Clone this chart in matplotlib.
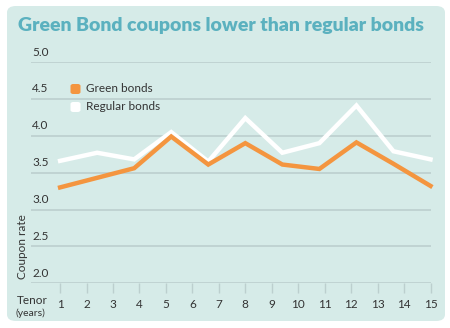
import numpy as np
import matplotlib.pyplot as plt
from matplotlib.patches import FancyBboxPatch

# tenor positions of the plotted points (years)
tenor = [1, 2.4, 3.8, 5.2, 6.6, 8, 9.4, 10.8, 12.2, 13.6, 15]
green = [3.30, 3.43, 3.56, 3.99, 3.61, 3.90, 3.61, 3.55, 3.91, 3.62, 3.32]
regular = [3.66, 3.77, 3.68, 4.05, 3.65, 4.24, 3.77, 3.90, 4.41, 3.79, 3.68]

xticks = list(range(1, 16))
yticks = [2.0, 2.5, 3.0, 3.5, 4.0, 4.5, 5.0]
series_names = ["Green bonds", "Regular bonds"]

CARD = "#d6ebe8"
TEAL = "#5bb1bf"
ORANGE = "#f4953f"
GRID = "#bccfce"
TEXT = "#333333"
FONT = "Lato"

W, H = 450, 328
fig = plt.figure(figsize=(4.5, 3.28), dpi=100)
fig.patch.set_facecolor("white")


def fx(px):
    return px / W


def fy(py):
    return 1 - py / H


# rounded card behind everything
card = FancyBboxPatch((fx(7), fy(321)), fx(438), 315 / H,
                      boxstyle="round,pad=0,rounding_size=0.02",
                      transform=fig.transFigure, facecolor=CARD,
                      edgecolor="none", zorder=-5)
fig.patches.append(card)

ax = fig.add_axes([fx(31), fy(283.3), fx(399.5), (283.3 - 62) / H])
ax.set_zorder(2)
ax.set_facecolor("none")
ax.set_xlim(-0.1, 15)
ax.set_ylim(2.0, 5.0)
for s in ax.spines.values():
    s.set_visible(False)
ax.set_yticks([])
ax.set_xticks(xticks)
ax.set_xticklabels([str(t) for t in xticks], fontsize=8.5, color=TEXT, family=FONT)
ax.tick_params(axis="x", length=7, width=1, color=GRID, pad=4)

for v in yticks:
    ax.axhline(v, color=GRID, lw=1.2, zorder=1)
    ax.text(0.003, v + 0.06, f"{v:.1f}", transform=ax.get_yaxis_transform(),
            fontsize=8.5, color=TEXT, family=FONT, va="bottom", ha="left")

ax.plot(tenor, regular, color="white", lw=3.2, solid_joinstyle="miter", zorder=3, clip_on=False)
ax.plot(tenor, green, color=ORANGE, lw=3.2, solid_joinstyle="miter", zorder=4, clip_on=False)

# legend
for i, (name, col) in enumerate(zip(series_names, [ORANGE, "white"])):
    yc = 89 + i * 18
    sq = FancyBboxPatch((fx(70.5), fy(yc + 5)), fx(10), 10 / H,
                        boxstyle="round,pad=0,rounding_size=0.006",
                        transform=fig.transFigure, facecolor=col,
                        edgecolor="none", zorder=5)
    fig.patches.append(sq)
    fig.text(fx(86), fy(yc), name, fontsize=8.5, color=TEXT, family=FONT,
             va="center", ha="left")

fig.text(fx(18), fy(25), "Green Bond coupons lower than regular bonds",
         fontsize=14, fontweight="heavy", color=TEAL, family=FONT,
         va="center", ha="left")
fig.text(fx(22), fy(247), "Coupon rate", rotation=90, fontsize=8.5,
         color=TEXT, family=FONT, va="center", ha="center")
fig.text(fx(17), fy(300), "Tenor", fontsize=8.5, color=TEXT, family=FONT,
         va="center", ha="left")
fig.text(fx(16), fy(313), "(years)", fontsize=7.5, color=TEXT, family=FONT,
         va="center", ha="left")

fig.savefig("out.png", dpi=100, facecolor="white")
